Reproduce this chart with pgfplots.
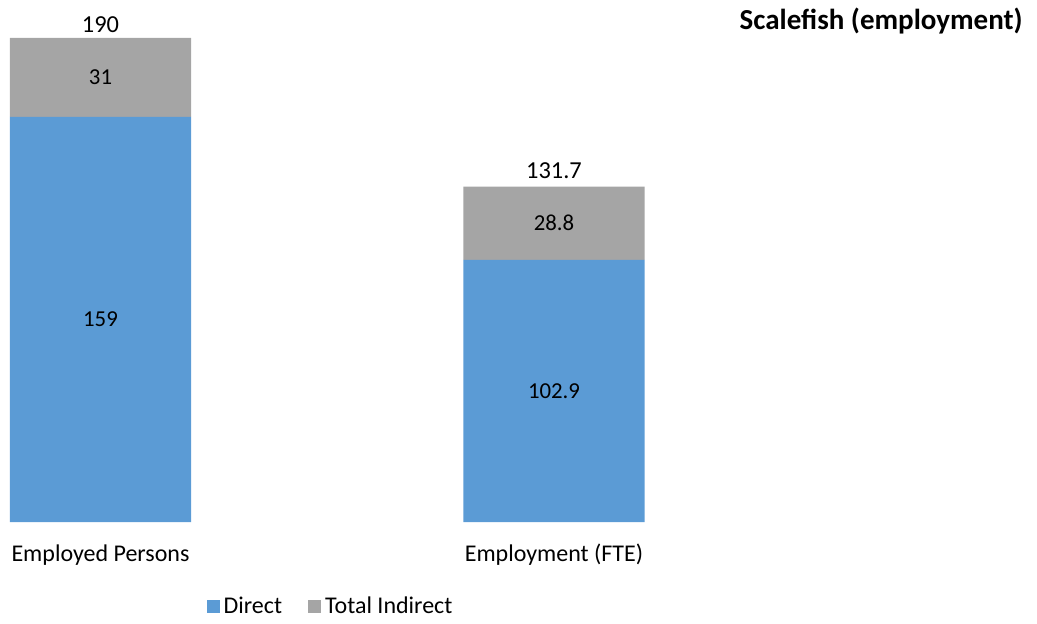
\documentclass[border=0pt]{standalone}
\usepackage{pgfplots}
\pgfplotsset{compat=1.18}
\usepackage{pgfplotstable}
\usepackage{fontspec}
\setmainfont{Carlito}

\definecolor{direct}{HTML}{5B9BD5}
\definecolor{indirect}{HTML}{A5A5A5}

\pgfplotstableread{
x direct indirect
0 159 31
1 102.9 28.8
}\scaledata

\begin{document}
\begin{tikzpicture}
\useasboundingbox (0,0) rectangle (518.5pt,311.5pt);
\begin{axis}[
    at={(0pt,50.5pt)}, anchor=south west,
    scale only axis,
    width=518.5pt, height=254.75pt,
    ybar stacked,
    bar width=0.4,
    xmin=-0.2216, xmax=2.065,
    ymin=0, ymax=200,
    axis line style={draw=none},
    ytick=\empty,
    xtick={0,1},
    xticklabels={Employed Persons, Employment (FTE)},
    major tick length=0pt,
    xticklabel style={font=\fontsize{12}{14}\selectfont, anchor=base, yshift=-19.9pt},
    legend columns=2,
    legend style={at={(axis description cs:0.3197,-0.1668)}, anchor=center,
        draw=none, font=\fontsize{12}{14}\selectfont,
        /tikz/every even column/.append style={column sep=11pt}},
    legend image code/.code={\fill[#1] (0pt,-3.25pt) rectangle (6.5pt,3.25pt);},
]
\addplot[fill=direct, draw=none] table[x=x, y=direct] {\scaledata};
\addlegendentry{Direct}
\addplot[fill=indirect, draw=none] table[x=x, y=indirect] {\scaledata};
\addlegendentry{Total Indirect}

\coordinate (d0) at (axis cs:0,79.5);
\coordinate (i0) at (axis cs:0,174.5);
\coordinate (d1) at (axis cs:1,51.45);
\coordinate (i1) at (axis cs:1,117.3);
\coordinate (t0) at (axis cs:0,190);
\coordinate (t1) at (axis cs:1,131.7);
\end{axis}
\begin{scope}[every node/.style={font=\fontsize{11.4}{13}\selectfont}]
\node at (d0) {159};
\node at (i0) {31};
\node at (d1) {102.9};
\node at (i1) {28.8};
\end{scope}
\node[font=\fontsize{12.2}{14}\selectfont, anchor=base, yshift=2.8pt, inner sep=0pt] at (t0) {190};
\node[font=\fontsize{12.2}{14}\selectfont, anchor=base, yshift=4pt, inner sep=0pt] at (t1) {131.7};
\node[anchor=base east, inner sep=0pt, font=\bfseries\fontsize{14.5}{17}\selectfont] at (511.5pt,297pt) {Scalefish (employment)};
\end{tikzpicture}
\end{document}
